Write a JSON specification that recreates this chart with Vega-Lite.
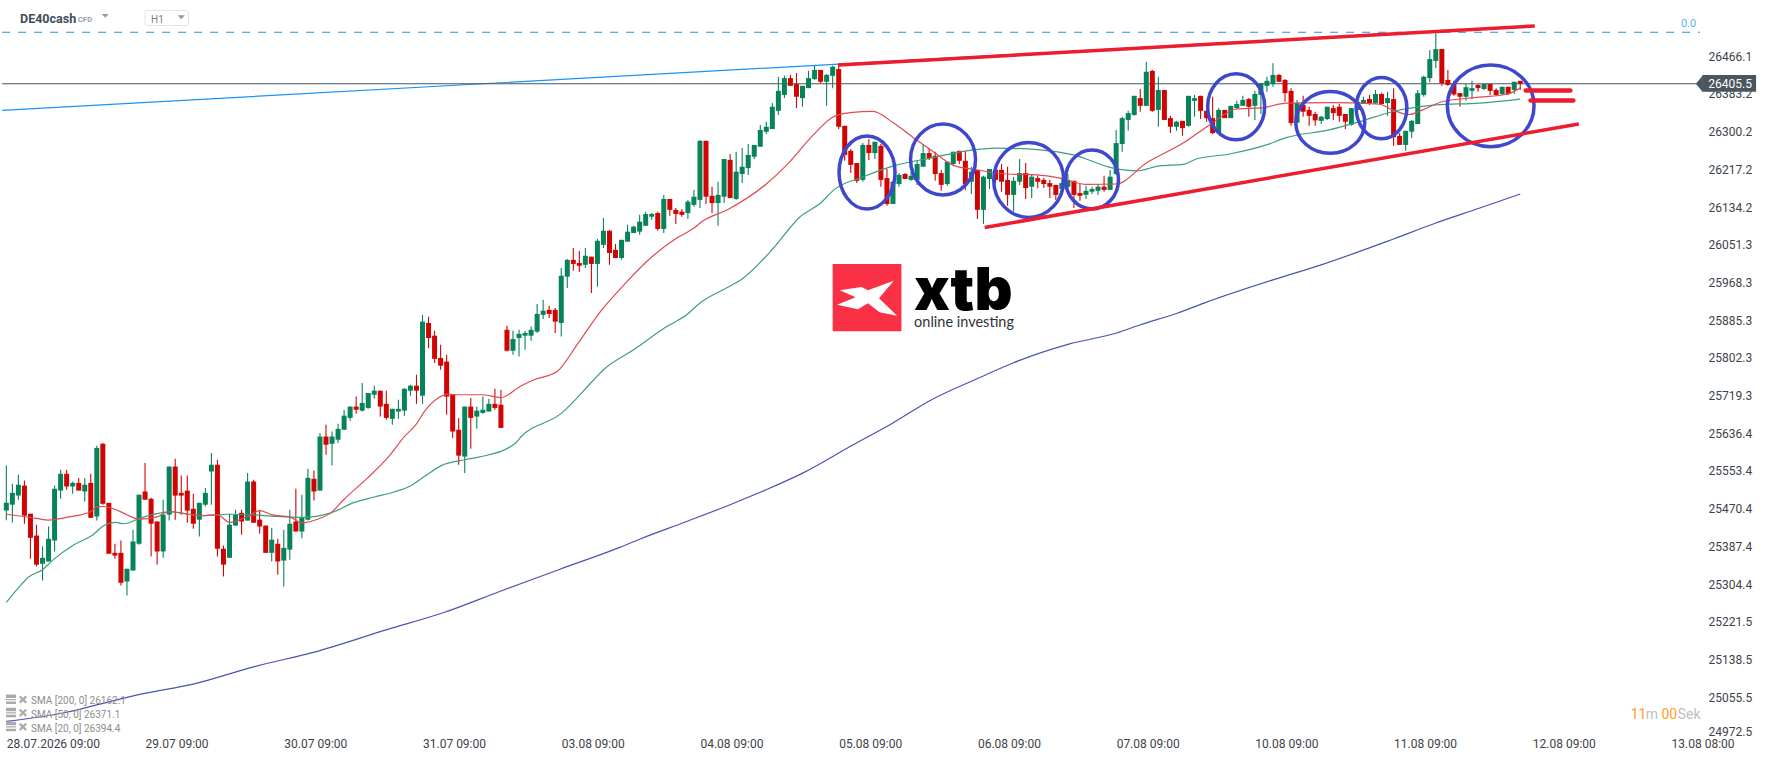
{
  "$schema": "https://vega.github.io/schema/vega-lite/v6.json",
  "description": "DE40cash H1 candlestick chart with SMA lines and hand drawn channel",
  "width": 1700,
  "height": 735,
  "autosize": {"type": "none"},
  "padding": {"left": 0, "top": 0, "right": 68, "bottom": 26},
  "background": "white",
  "config": {"view": {"stroke": null}, "font": "Roboto"},
  "datasets": {
    "candles": [
      {"i":0,"o":25466,"h":25565,"l":25445,"c":25483},{"i":1,"o":25479,"h":25525,"l":25440,"c":25505},{"i":2,"o":25499,"h":25545,"l":25490,"c":25523},{"i":3,"o":25521,"h":25532,"l":25437,"c":25455},
      {"i":4,"o":25459,"h":25459,"l":25360,"c":25406},{"i":5,"o":25411,"h":25435,"l":25343,"c":25347},{"i":6,"o":25349,"h":25387,"l":25312,"c":25362},{"i":7,"o":25354,"h":25431,"l":25354,"c":25404},
      {"i":8,"o":25400,"h":25521,"l":25376,"c":25514},{"i":9,"o":25510,"h":25556,"l":25492,"c":25547},{"i":10,"o":25547,"h":25556,"l":25512,"c":25519},{"i":11,"o":25519,"h":25530,"l":25503,"c":25527},
      {"i":12,"o":25527,"h":25538,"l":25510,"c":25510},{"i":13,"o":25508,"h":25538,"l":25486,"c":25523},{"i":14,"o":25527,"h":25547,"l":25450,"c":25450},{"i":15,"o":25453,"h":25609,"l":25444,"c":25604},
      {"i":16,"o":25613,"h":25615,"l":25479,"c":25481},{"i":17,"o":25483,"h":25483,"l":25371,"c":25371},{"i":18,"o":25373,"h":25393,"l":25360,"c":25367},{"i":19,"o":25373,"h":25400,"l":25301,"c":25307},
      {"i":20,"o":25310,"h":25338,"l":25279,"c":25338},{"i":21,"o":25334,"h":25424,"l":25334,"c":25398},{"i":22,"o":25393,"h":25501,"l":25391,"c":25501},{"i":23,"o":25508,"h":25571,"l":25490,"c":25490},
      {"i":24,"o":25492,"h":25494,"l":25365,"c":25437},{"i":25,"o":25442,"h":25442,"l":25347,"c":25376},{"i":26,"o":25376,"h":25490,"l":25362,"c":25457},{"i":27,"o":25457,"h":25563,"l":25444,"c":25563},
      {"i":28,"o":25563,"h":25580,"l":25446,"c":25499},{"i":29,"o":25505,"h":25543,"l":25457,"c":25499},{"i":30,"o":25510,"h":25543,"l":25439,"c":25466},{"i":31,"o":25470,"h":25503,"l":25426,"c":25437},
      {"i":32,"o":25446,"h":25483,"l":25409,"c":25483},{"i":33,"o":25479,"h":25516,"l":25475,"c":25505},{"i":34,"o":25552,"h":25593,"l":25479,"c":25567},{"i":35,"o":25567,"h":25578,"l":25365,"c":25382},
      {"i":36,"o":25382,"h":25389,"l":25321,"c":25347},{"i":37,"o":25362,"h":25459,"l":25362,"c":25435},{"i":38,"o":25433,"h":25468,"l":25433,"c":25457},{"i":39,"o":25461,"h":25468,"l":25413,"c":25442},
      {"i":40,"o":25444,"h":25549,"l":25444,"c":25530},{"i":41,"o":25530,"h":25534,"l":25439,"c":25439},{"i":42,"o":25446,"h":25466,"l":25415,"c":25431},{"i":43,"o":25433,"h":25433,"l":25373,"c":25373},
      {"i":44,"o":25373,"h":25428,"l":25354,"c":25402},{"i":45,"o":25393,"h":25404,"l":25325,"c":25354},{"i":46,"o":25356,"h":25424,"l":25299,"c":25384},{"i":47,"o":25380,"h":25468,"l":25358,"c":25437},
      {"i":48,"o":25442,"h":25514,"l":25420,"c":25420},{"i":49,"o":25420,"h":25501,"l":25405,"c":25450},{"i":50,"o":25446,"h":25558,"l":25444,"c":25538},{"i":51,"o":25536,"h":25554,"l":25488,"c":25508},
      {"i":52,"o":25510,"h":25637,"l":25510,"c":25629},{"i":53,"o":25629,"h":25655,"l":25589,"c":25611},{"i":54,"o":25613,"h":25640,"l":25565,"c":25629},{"i":55,"o":25622,"h":25657,"l":25615,"c":25646},
      {"i":56,"o":25644,"h":25688,"l":25644,"c":25675},{"i":57,"o":25670,"h":25695,"l":25664,"c":25695},{"i":58,"o":25695,"h":25717,"l":25679,"c":25688},{"i":59,"o":25686,"h":25747,"l":25684,"c":25703},
      {"i":60,"o":25692,"h":25725,"l":25690,"c":25725},{"i":61,"o":25721,"h":25741,"l":25712,"c":25730},{"i":62,"o":25730,"h":25730,"l":25673,"c":25695},{"i":63,"o":25701,"h":25730,"l":25666,"c":25670},
      {"i":64,"o":25668,"h":25690,"l":25655,"c":25690},{"i":65,"o":25684,"h":25710,"l":25668,"c":25690},{"i":66,"o":25686,"h":25736,"l":25675,"c":25734},{"i":67,"o":25730,"h":25743,"l":25719,"c":25741},
      {"i":68,"o":25741,"h":25765,"l":25701,"c":25730},{"i":69,"o":25719,"h":25897,"l":25701,"c":25882},{"i":70,"o":25879,"h":25893,"l":25824,"c":25846},{"i":71,"o":25851,"h":25862,"l":25791,"c":25800},
      {"i":72,"o":25802,"h":25831,"l":25776,"c":25785},{"i":73,"o":25794,"h":25809,"l":25677,"c":25717},{"i":74,"o":25721,"h":25721,"l":25626,"c":25640},{"i":75,"o":25644,"h":25670,"l":25567,"c":25587},
      {"i":76,"o":25585,"h":25695,"l":25549,"c":25695},{"i":77,"o":25695,"h":25714,"l":25602,"c":25670},{"i":78,"o":25673,"h":25695,"l":25646,"c":25686},{"i":79,"o":25681,"h":25717,"l":25679,"c":25688},
      {"i":80,"o":25684,"h":25712,"l":25684,"c":25701},{"i":81,"o":25701,"h":25734,"l":25688,"c":25692},{"i":82,"o":25699,"h":25732,"l":25648,"c":25648},{"i":83,"o":25864,"h":25873,"l":25816,"c":25818},
      {"i":84,"o":25818,"h":25862,"l":25809,"c":25844},{"i":85,"o":25846,"h":25864,"l":25805,"c":25855},{"i":86,"o":25851,"h":25862,"l":25820,"c":25857},{"i":87,"o":25851,"h":25871,"l":25840,"c":25864},
      {"i":88,"o":25860,"h":25921,"l":25857,"c":25899},{"i":89,"o":25897,"h":25930,"l":25888,"c":25906},{"i":90,"o":25908,"h":25917,"l":25890,"c":25899},{"i":91,"o":25908,"h":25912,"l":25857,"c":25882},
      {"i":92,"o":25879,"h":26000,"l":25849,"c":25983},{"i":93,"o":25981,"h":26020,"l":25956,"c":26018},{"i":94,"o":26018,"h":26044,"l":25994,"c":26009},{"i":95,"o":26011,"h":26038,"l":25992,"c":26005},
      {"i":96,"o":26007,"h":26044,"l":26000,"c":26027},{"i":97,"o":26025,"h":26025,"l":25945,"c":26009},{"i":98,"o":26009,"h":26064,"l":25959,"c":26060},{"i":99,"o":26051,"h":26110,"l":26044,"c":26082},
      {"i":100,"o":26082,"h":26084,"l":26007,"c":26033},{"i":101,"o":26040,"h":26053,"l":26022,"c":26022},{"i":102,"o":26022,"h":26062,"l":26018,"c":26062},{"i":103,"o":26058,"h":26095,"l":26058,"c":26080},
      {"i":104,"o":26077,"h":26093,"l":26077,"c":26091},{"i":105,"o":26080,"h":26117,"l":26073,"c":26102},{"i":106,"o":26093,"h":26124,"l":26093,"c":26119},{"i":107,"o":26113,"h":26121,"l":26106,"c":26119},
      {"i":108,"o":26121,"h":26124,"l":26082,"c":26086},{"i":109,"o":26086,"h":26161,"l":26077,"c":26152},{"i":110,"o":26152,"h":26152,"l":26115,"c":26128},{"i":111,"o":26128,"h":26132,"l":26097,"c":26119},
      {"i":112,"o":26124,"h":26130,"l":26113,"c":26117},{"i":113,"o":26121,"h":26150,"l":26108,"c":26146},{"i":114,"o":26139,"h":26172,"l":26135,"c":26157},{"i":115,"o":26150,"h":26282,"l":26132,"c":26280},
      {"i":116,"o":26280,"h":26280,"l":26141,"c":26157},{"i":117,"o":26159,"h":26179,"l":26121,"c":26143},{"i":118,"o":26143,"h":26190,"l":26093,"c":26161},{"i":119,"o":26157,"h":26240,"l":26143,"c":26240},
      {"i":120,"o":26238,"h":26251,"l":26154,"c":26154},{"i":121,"o":26152,"h":26256,"l":26150,"c":26212},{"i":122,"o":26207,"h":26264,"l":26187,"c":26223},{"i":123,"o":26220,"h":26273,"l":26205,"c":26249},
      {"i":124,"o":26245,"h":26271,"l":26240,"c":26271},{"i":125,"o":26267,"h":26315,"l":26267,"c":26304},{"i":126,"o":26300,"h":26322,"l":26295,"c":26311},{"i":127,"o":26306,"h":26363,"l":26306,"c":26355},
      {"i":128,"o":26346,"h":26421,"l":26337,"c":26390},{"i":129,"o":26381,"h":26423,"l":26374,"c":26418},{"i":130,"o":26418,"h":26425,"l":26401,"c":26401},{"i":131,"o":26405,"h":26429,"l":26352,"c":26377},
      {"i":132,"o":26374,"h":26401,"l":26355,"c":26401},{"i":133,"o":26396,"h":26434,"l":26396,"c":26418},{"i":134,"o":26416,"h":26445,"l":26414,"c":26436},{"i":135,"o":26436,"h":26436,"l":26407,"c":26410},
      {"i":136,"o":26410,"h":26427,"l":26357,"c":26425},{"i":137,"o":26423,"h":26445,"l":26396,"c":26443},{"i":138,"o":26438,"h":26451,"l":26306,"c":26311},{"i":139,"o":26313,"h":26313,"l":26236,"c":26249},
      {"i":140,"o":26258,"h":26262,"l":26209,"c":26227},{"i":141,"o":26231,"h":26231,"l":26187,"c":26192},{"i":142,"o":26194,"h":26275,"l":26190,"c":26271},{"i":143,"o":26271,"h":26284,"l":26238,"c":26253},
      {"i":144,"o":26253,"h":26278,"l":26240,"c":26278},{"i":145,"o":26269,"h":26273,"l":26179,"c":26194},{"i":146,"o":26198,"h":26218,"l":26137,"c":26141},{"i":147,"o":26141,"h":26190,"l":26141,"c":26190},
      {"i":148,"o":26185,"h":26209,"l":26179,"c":26205},{"i":149,"o":26207,"h":26209,"l":26196,"c":26196},{"i":150,"o":26194,"h":26212,"l":26192,"c":26203},{"i":151,"o":26194,"h":26238,"l":26183,"c":26229},
      {"i":152,"o":26223,"h":26273,"l":26223,"c":26253},{"i":153,"o":26253,"h":26264,"l":26238,"c":26242},{"i":154,"o":26247,"h":26256,"l":26192,"c":26207},{"i":155,"o":26209,"h":26216,"l":26170,"c":26183},
      {"i":156,"o":26185,"h":26234,"l":26181,"c":26234},{"i":157,"o":26229,"h":26256,"l":26227,"c":26256},{"i":158,"o":26258,"h":26258,"l":26229,"c":26236},{"i":159,"o":26236,"h":26258,"l":26172,"c":26185},
      {"i":160,"o":26190,"h":26223,"l":26163,"c":26212},{"i":161,"o":26216,"h":26216,"l":26108,"c":26128},{"i":162,"o":26128,"h":26203,"l":26097,"c":26201},{"i":163,"o":26196,"h":26218,"l":26174,"c":26218},
      {"i":164,"o":26216,"h":26227,"l":26187,"c":26194},{"i":165,"o":26216,"h":26229,"l":26168,"c":26190},{"i":166,"o":26194,"h":26223,"l":26137,"c":26161},{"i":167,"o":26161,"h":26201,"l":26124,"c":26192},
      {"i":168,"o":26190,"h":26240,"l":26183,"c":26209},{"i":169,"o":26209,"h":26231,"l":26152,"c":26176},{"i":170,"o":26179,"h":26207,"l":26154,"c":26201},{"i":171,"o":26198,"h":26203,"l":26176,"c":26190},
      {"i":172,"o":26194,"h":26198,"l":26176,"c":26185},{"i":173,"o":26187,"h":26194,"l":26154,"c":26179},{"i":174,"o":26183,"h":26183,"l":26150,"c":26161},{"i":175,"o":26174,"h":26198,"l":26172,"c":26187},
      {"i":176,"o":26179,"h":26207,"l":26176,"c":26194},{"i":177,"o":26192,"h":26192,"l":26132,"c":26161},{"i":178,"o":26165,"h":26185,"l":26148,"c":26159},{"i":179,"o":26161,"h":26181,"l":26152,"c":26170},
      {"i":180,"o":26168,"h":26179,"l":26163,"c":26174},{"i":181,"o":26170,"h":26185,"l":26161,"c":26179},{"i":182,"o":26179,"h":26203,"l":26168,"c":26172},{"i":183,"o":26172,"h":26216,"l":26172,"c":26201},
      {"i":184,"o":26207,"h":26304,"l":26205,"c":26275},{"i":185,"o":26273,"h":26333,"l":26256,"c":26330},{"i":186,"o":26326,"h":26346,"l":26302,"c":26341},{"i":187,"o":26337,"h":26379,"l":26335,"c":26379},
      {"i":188,"o":26374,"h":26394,"l":26344,"c":26357},{"i":189,"o":26357,"h":26454,"l":26357,"c":26432},{"i":190,"o":26434,"h":26436,"l":26344,"c":26346},{"i":191,"o":26348,"h":26421,"l":26311,"c":26392},
      {"i":192,"o":26392,"h":26392,"l":26326,"c":26326},{"i":193,"o":26330,"h":26335,"l":26297,"c":26311},{"i":194,"o":26311,"h":26324,"l":26302,"c":26322},{"i":195,"o":26324,"h":26324,"l":26291,"c":26308},
      {"i":196,"o":26313,"h":26379,"l":26311,"c":26379},{"i":197,"o":26368,"h":26381,"l":26333,"c":26374},{"i":198,"o":26379,"h":26379,"l":26328,"c":26346},{"i":199,"o":26346,"h":26355,"l":26322,"c":26330},
      {"i":200,"o":26330,"h":26377,"l":26295,"c":26297},{"i":201,"o":26297,"h":26352,"l":26295,"c":26348},{"i":202,"o":26348,"h":26348,"l":26330,"c":26330},{"i":203,"o":26330,"h":26357,"l":26330,"c":26357},
      {"i":204,"o":26352,"h":26368,"l":26350,"c":26361},{"i":205,"o":26357,"h":26379,"l":26357,"c":26370},{"i":206,"o":26372,"h":26374,"l":26333,"c":26355},{"i":207,"o":26357,"h":26390,"l":26326,"c":26383},
      {"i":208,"o":26381,"h":26407,"l":26339,"c":26407},{"i":209,"o":26401,"h":26421,"l":26388,"c":26412},{"i":210,"o":26405,"h":26451,"l":26399,"c":26425},{"i":211,"o":26425,"h":26427,"l":26410,"c":26410},
      {"i":212,"o":26414,"h":26416,"l":26366,"c":26385},{"i":213,"o":26390,"h":26396,"l":26313,"c":26319},{"i":214,"o":26320,"h":26370,"l":26319,"c":26363},{"i":215,"o":26359,"h":26379,"l":26333,"c":26344},
      {"i":216,"o":26348,"h":26355,"l":26313,"c":26335},{"i":217,"o":26339,"h":26344,"l":26313,"c":26325},{"i":218,"o":26324,"h":26335,"l":26317,"c":26333},{"i":219,"o":26328,"h":26355,"l":26326,"c":26355},
      {"i":220,"o":26352,"h":26359,"l":26326,"c":26341},{"i":221,"o":26355,"h":26361,"l":26322,"c":26335},{"i":222,"o":26339,"h":26339,"l":26306,"c":26322},{"i":223,"o":26315,"h":26352,"l":26313,"c":26352},
      {"i":224,"o":26348,"h":26375,"l":26340,"c":26366},{"i":225,"o":26361,"h":26377,"l":26361,"c":26370},{"i":226,"o":26372,"h":26381,"l":26359,"c":26363},{"i":227,"o":26363,"h":26392,"l":26361,"c":26383},
      {"i":228,"o":26383,"h":26386,"l":26359,"c":26361},{"i":229,"o":26363,"h":26388,"l":26335,"c":26374},{"i":230,"o":26372,"h":26396,"l":26269,"c":26288},{"i":231,"o":26291,"h":26297,"l":26271,"c":26271},
      {"i":232,"o":26271,"h":26302,"l":26258,"c":26302},{"i":233,"o":26300,"h":26326,"l":26286,"c":26324},{"i":234,"o":26317,"h":26392,"l":26317,"c":26385},{"i":235,"o":26381,"h":26423,"l":26377,"c":26421},
      {"i":236,"o":26418,"h":26480,"l":26409,"c":26460},{"i":237,"o":26456,"h":26517,"l":26440,"c":26482},{"i":238,"o":26482,"h":26482,"l":26401,"c":26407},{"i":239,"o":26414,"h":26436,"l":26401,"c":26403},
      {"i":240,"o":26405,"h":26412,"l":26379,"c":26382},{"i":241,"o":26385,"h":26385,"l":26355,"c":26377},{"i":242,"o":26377,"h":26405,"l":26368,"c":26398},{"i":243,"o":26390,"h":26412,"l":26372,"c":26396},
      {"i":244,"o":26403,"h":26405,"l":26388,"c":26396},{"i":245,"o":26394,"h":26405,"l":26392,"c":26405},{"i":246,"o":26405,"h":26405,"l":26381,"c":26390},{"i":247,"o":26392,"h":26396,"l":26379,"c":26381},
      {"i":248,"o":26383,"h":26399,"l":26381,"c":26399},{"i":249,"o":26399,"h":26399,"l":26381,"c":26383},{"i":250,"o":26392,"h":26410,"l":26383,"c":26410},{"i":251,"o":26412,"h":26412,"l":26392,"c":26405.5}
    ]
  },
  "encoding": {
    "x": {
      "field": "i",
      "type": "quantitative",
      "scale": {"domain": [-1.05, 280.8], "nice": false, "zero": false, "padding": 0},
      "axis": {
        "title": null,
        "grid": false,
        "domain": false,
        "ticks": false,
        "values": [0, 23, 46, 69, 92, 115, 138, 161, 184, 207, 230, 253, 276],
        "labelExpr": "['28.07.2026 09:00','29.07 09:00','30.07 09:00','31.07 09:00','03.08 09:00','04.08 09:00','05.08 09:00','06.08 09:00','07.08 09:00','10.08 09:00','11.08 09:00','12.08 09:00','13.08 08:00'][datum.value/23]",
        "labelAlign": "left",
        "labelBaseline": "top",
        "labelPadding": 3,
        "labelFont": "Roboto",
        "labelFontSize": 12,
        "labelColor": "#3c434a",
        "labelOverlap": false,
        "labelFlush": false,
        "labelBound": false
      }
    },
    "y": {
      "field": "v",
      "type": "quantitative",
      "scale": {"domain": [24972, 26590], "nice": false, "zero": false},
      "axis": {
        "title": null,
        "orient": "right",
        "grid": false,
        "domain": false,
        "ticks": false,
        "values": [26466.1, 26383.2, 26300.2, 26217.2, 26134.2, 26051.3, 25968.3, 25885.3, 25802.3, 25719.3, 25636.4, 25553.4, 25470.4, 25387.4, 25304.4, 25221.5, 25138.5, 25055.5, 24972.5],
        "format": ".1f",
        "labelPadding": 8,
        "labelFont": "Roboto",
        "labelFontSize": 12,
        "labelColor": "#3c434a",
        "labelOverlap": false,
        "labelBound": false,
        "labelOffset": {"condition": {"test": "datum.value < 25000", "value": -3}, "value": 0}
      }
    }
  },
  "layer": [
    {
      "data": {"values": [{"i": -0.7, "v": 26347}, {"i": 138, "v": 26449}, {"i": 231, "v": 26517}]},
      "mark": {"type": "line", "stroke": "#1a93f5", "strokeWidth": 1.2},
      "encoding": {}
    },
    {
      "data": {"values": [{"i": -0.7, "v": 26519}, {"i": 280.8, "v": 26519}]},
      "mark": {"type": "line", "stroke": "#1a93f5", "strokeWidth": 1, "strokeDash": [8, 8]},
      "encoding": {}
    },
    {
      "data": {"values": [{"i": -0.7, "v": 26405.5}, {"i": 280.8, "v": 26405.5}]},
      "mark": {"type": "line", "stroke": "#4a5660", "strokeWidth": 1.1},
      "encoding": {}
    },
    {
      "data": {"name": "candles"},
      "mark": {"type": "rule", "strokeWidth": 1.1},
      "encoding": {
        "y": {"field": "h", "type": "quantitative", "scale": {"domain": [24972, 26590], "nice": false, "zero": false},
          "axis": {
            "title": null,
            "orient": "right",
            "grid": false,
            "domain": false,
            "ticks": false,
            "values": [26466.1, 26383.2, 26300.2, 26217.2, 26134.2, 26051.3, 25968.3, 25885.3, 25802.3, 25719.3, 25636.4, 25553.4, 25470.4, 25387.4, 25304.4, 25221.5, 25138.5, 25055.5, 24972.5],
            "format": ".1f",
            "labelPadding": 8,
            "labelFont": "Roboto",
            "labelFontSize": 12,
            "labelColor": "#3c434a",
            "labelOverlap": false,
            "labelBound": false,
            "labelOffset": {"condition": {"test": "datum.value < 25000", "value": -3}, "value": 0}
          }
        },
        "y2": {"field": "l"},
        "color": {"condition": {"test": "datum.c >= datum.o", "value": "#07835a"}, "value": "#d10404"}
      }
    },
    {
      "data": {"name": "candles"},
      "mark": {"type": "bar", "size": 5},
      "encoding": {
        "y": {"field": "o", "type": "quantitative", "scale": {"domain": [24972, 26590], "nice": false, "zero": false},
          "axis": {
            "title": null,
            "orient": "right",
            "grid": false,
            "domain": false,
            "ticks": false,
            "values": [26466.1, 26383.2, 26300.2, 26217.2, 26134.2, 26051.3, 25968.3, 25885.3, 25802.3, 25719.3, 25636.4, 25553.4, 25470.4, 25387.4, 25304.4, 25221.5, 25138.5, 25055.5, 24972.5],
            "format": ".1f",
            "labelPadding": 8,
            "labelFont": "Roboto",
            "labelFontSize": 12,
            "labelColor": "#3c434a",
            "labelOverlap": false,
            "labelBound": false,
            "labelOffset": {"condition": {"test": "datum.value < 25000", "value": -3}, "value": 0}
          }
        },
        "y2": {"field": "c"},
        "color": {"condition": {"test": "datum.c >= datum.o", "value": "#07835a"}, "value": "#d10404"}
      }
    },
    {
      "data": {"values": [
        {"i":0,"v":25264},{"i":2,"v":25296},{"i":3.7,"v":25320},{"i":6,"v":25336},{"i":7.8,"v":25358},{"i":11.2,"v":25391},{"i":14.2,"v":25411},{"i":16.2,"v":25433},{"i":18.1,"v":25440},{"i":19.5,"v":25437},{"i":22.3,"v":25450},{"i":27.3,"v":25463},{"i":32.3,"v":25455},{"i":36.7,"v":25458},{"i":41.7,"v":25456},{"i":45,"v":25453},{"i":49,"v":25451},
        {"i":53.8,"v":25461},{"i":57.7,"v":25484},{"i":61,"v":25496},{"i":64.3,"v":25507},{"i":66.8,"v":25519},{"i":69.3,"v":25541},{"i":72.1,"v":25565},{"i":76,"v":25578},{"i":78.8,"v":25585},{"i":84.3,"v":25613},{"i":85.3,"v":25628},{"i":92,"v":25680},{"i":97.4,"v":25754},
        {"i":99,"v":25776},{"i":104,"v":25820},{"i":109.5,"v":25871},{"i":112.8,"v":25897},{"i":115,"v":25923},{"i":119.7,"v":25958},{"i":122.2,"v":25978},{"i":127.2,"v":26044},{"i":131.6,"v":26113},{"i":135,"v":26143},{"i":137.2,"v":26172},{"i":142.1,"v":26201},{"i":147.1,"v":26225},{"i":153.2,"v":26242},{"i":159.2,"v":26258},{"i":164.2,"v":26264},{"i":171.4,"v":26260},{"i":176.9,"v":26249},{"i":183.5,"v":26220},{"i":187.4,"v":26214},{"i":191.2,"v":26225},{"i":195.1,"v":26228},{"i":197.3,"v":26240},{"i":202.8,"v":26251},{"i":208.9,"v":26271},{"i":212.2,"v":26287},{"i":219.3,"v":26304},{"i":224.3,"v":26322},{"i":229.8,"v":26344},{"i":237,"v":26359},{"i":244.2,"v":26363},{"i":251,"v":26372}
      ]},
      "mark": {"type": "line", "stroke": "#3c9f7c", "strokeWidth": 1.2, "interpolate": "monotone"},
      "encoding": {}
    },
    {
      "data": {"values": [
        {"i":0,"v":25458},{"i":5,"v":25449},{"i":7,"v":25445},{"i":10,"v":25451},{"i":14,"v":25464},{"i":15,"v":25474},{"i":16,"v":25475},{"i":18,"v":25469},{"i":20,"v":25457},{"i":22,"v":25447},{"i":25,"v":25452},{"i":27,"v":25464},{"i":30,"v":25458},{"i":33,"v":25455},{"i":35,"v":25457},{"i":37,"v":25440},{"i":40,"v":25453},{"i":42,"v":25466},{"i":44,"v":25457},{"i":47,"v":25452},{"i":49,"v":25439},
        {"i":51.6,"v":25447},{"i":53.8,"v":25461},{"i":56,"v":25491},{"i":59.9,"v":25538},{"i":63.2,"v":25582},{"i":66,"v":25629},{"i":68,"v":25657},{"i":69.3,"v":25684},{"i":71.6,"v":25714},{"i":73,"v":25722},{"i":75.4,"v":25721},{"i":78.8,"v":25721},{"i":82,"v":25715},{"i":85.4,"v":25741},{"i":87.5,"v":25754},{"i":91.3,"v":25772},{"i":94.6,"v":25831},{"i":98.5,"v":25904},{"i":102.4,"v":25963},{"i":106.8,"v":26022},{"i":110.9,"v":26064},{"i":114,"v":26088},{"i":115.3,"v":26102},{"i":119.8,"v":26130},{"i":126,"v":26185},{"i":129.4,"v":26227},{"i":133.8,"v":26293},{"i":137,"v":26332},{"i":139.9,"v":26342},{"i":143.7,"v":26345},{"i":147.1,"v":26319},{"i":150.4,"v":26287},{"i":153.7,"v":26256},{"i":157,"v":26226},{"i":160.9,"v":26216},{"i":165.9,"v":26207},{"i":170.8,"v":26205},{"i":174.7,"v":26198},{"i":179.1,"v":26184},{"i":184,"v":26185},{"i":189,"v":26231},{"i":195.1,"v":26275},{"i":199.5,"v":26315},{"i":203.9,"v":26350},{"i":208.3,"v":26353},{"i":212.2,"v":26363},{"i":219.3,"v":26364},{"i":227.6,"v":26361},{"i":229.8,"v":26348},{"i":232.6,"v":26338},{"i":234.8,"v":26348},{"i":238,"v":26366},{"i":244.2,"v":26376},{"i":248.6,"v":26382},{"i":251,"v":26396}
      ]},
      "mark": {"type": "line", "stroke": "#e04a50", "strokeWidth": 1.2, "interpolate": "monotone"},
      "encoding": {}
    },
    {
      "data": {"values": [
        {"i":0,"v":25002},{"i":10,"v":25022},{"i":15.5,"v":25040},{"i":22.7,"v":25063},{"i":31,"v":25084},{"i":41,"v":25122},{"i":50.9,"v":25154},{"i":63.1,"v":25204},{"i":72.4,"v":25241},{"i":81.8,"v":25288},{"i":91.8,"v":25337},{"i":101.7,"v":25385},{"i":105,"v":25403},{"i":112.8,"v":25442},{"i":120,"v":25479},{"i":126,"v":25512},{"i":132.1,"v":25549},{"i":140.4,"v":25611},{"i":147,"v":25659},{"i":153.1,"v":25708},{"i":161.4,"v":25759},{"i":166.9,"v":25791},{"i":176.3,"v":25833},{"i":184.1,"v":25857},{"i":188,"v":25875},{"i":194,"v":25900},{"i":199,"v":25925},{"i":210,"v":25974},{"i":218,"v":26007},{"i":230,"v":26064},{"i":237,"v":26099},{"i":244.3,"v":26132},{"i":251,"v":26163}
      ]},
      "mark": {"type": "line", "stroke": "#4a54b0", "strokeWidth": 1.2, "interpolate": "monotone"},
      "encoding": {}
    },
    {
      "data": {"values": [{"i": 142.7, "v": 26210.5}]},
      "mark": {"type": "point", "shape": "M-0.767,0A0.767,1 0 1 1 0.767,0A0.767,1 0 1 1 -0.767,0Z", "size": 5329, "filled": false, "stroke": "#3f48cc", "strokeWidth": 3.5, "opacity": 1}
    },
    {
      "data": {"values": [{"i": 155.3, "v": 26239}]},
      "mark": {"type": "point", "shape": "M-0.915,0A0.915,1 0 1 1 0.915,0A0.915,1 0 1 1 -0.915,0Z", "size": 5041, "filled": false, "stroke": "#3f48cc", "strokeWidth": 3.5, "opacity": 1}
    },
    {
      "data": {"values": [{"i": 169.5, "v": 26194}]},
      "mark": {"type": "point", "shape": "M-0.933,0A0.933,1 0 1 1 0.933,0A0.933,1 0 1 1 -0.933,0Z", "size": 5625, "filled": false, "stroke": "#3f48cc", "strokeWidth": 3.5, "opacity": 1}
    },
    {
      "data": {"values": [{"i": 180, "v": 26195}]},
      "mark": {"type": "point", "shape": "M-0.898,0A0.898,1 0 1 1 0.898,0A0.898,1 0 1 1 -0.898,0Z", "size": 3481, "filled": false, "stroke": "#3f48cc", "strokeWidth": 3.5, "opacity": 1}
    },
    {
      "data": {"values": [{"i": 203.9, "v": 26355}]},
      "mark": {"type": "point", "shape": "M-0.864,0A0.864,1 0 1 1 0.864,0A0.864,1 0 1 1 -0.864,0Z", "size": 4356, "filled": false, "stroke": "#3f48cc", "strokeWidth": 3.5, "opacity": 1}
    },
    {
      "data": {"values": [{"i": 219.5, "v": 26320.5}]},
      "mark": {"type": "point", "shape": "M-1,0A1,0.894 0 1 1 1,0A1,0.894 0 1 1 -1,0Z", "size": 4761, "filled": false, "stroke": "#3f48cc", "strokeWidth": 3.5, "opacity": 1}
    },
    {
      "data": {"values": [{"i": 228, "v": 26352}]},
      "mark": {"type": "point", "shape": "M-0.827,0A0.827,1 0 1 1 0.827,0A0.827,1 0 1 1 -0.827,0Z", "size": 3758, "filled": false, "stroke": "#3f48cc", "strokeWidth": 3.5, "opacity": 1}
    },
    {
      "data": {"values": [{"i": 246.1, "v": 26357}]},
      "mark": {"type": "point", "shape": "M-1,0A1,0.942 0 1 1 1,0A1,0.942 0 1 1 -1,0Z", "size": 7517, "filled": false, "stroke": "#3f48cc", "strokeWidth": 3.5, "opacity": 1}
    },
    {
      "data": {"values": [
        {"line": "upper", "i": 138, "v": 26447}, {"line": "upper", "i": 253.4, "v": 26533},
        {"line": "lower", "i": 162.2, "v": 26089}, {"line": "lower", "i": 260.7, "v": 26317}
      ]},
      "mark": {"type": "line", "stroke": "#ed1c2e", "strokeWidth": 3.5},
      "encoding": {"detail": {"field": "line"}}
    },
    {
      "data": {"values": [
        {"line": "a", "i": 251.9, "v": 26391}, {"line": "a", "i": 259.3, "v": 26391},
        {"line": "b", "i": 252.7, "v": 26369}, {"line": "b", "i": 259.8, "v": 26369}
      ]},
      "mark": {"type": "line", "stroke": "#ed1c2e", "strokeWidth": 4.5, "strokeCap": "round"},
      "encoding": {"detail": {"field": "line"}}
    },
    {
      "data": {"values": [{"i": 137, "i2": 148.4, "v": 26009, "v2": 25860.7}]},
      "mark": {"type": "rect", "fill": "#fa3145", "cornerRadius": 1},
      "encoding": {"x2": {"field": "i2"}, "y2": {"field": "v2"}}
    },
    {
      "data": {"values": [{"i": 142.7, "v": 25933.7}]},
      "mark": {"type": "point", "shape": "M-0.91,-0.26L-0.19,-0.37L0.03,-0.26L0.89,-0.58L0.4,0L1,0.59L0.42,0.47L0.03,0.17L-0.3,0.37L-1,0.22L-0.38,-0.03Z", "size": 3600, "filled": true, "color": "white", "opacity": 1}
    },
    {
      "data": {"values": [{"i": 150.5, "v": 25908, "label": "xtb"}]},
      "mark": {"type": "text", "font": "Inter", "fontWeight": 900, "fontSize": 59, "align": "left", "baseline": "alphabetic", "color": "#000000"},
      "encoding": {"text": {"field": "label"}}
    },
    {
      "data": {"values": [{"i": 150.5, "v": 25880, "label": "online investing"}]},
      "mark": {"type": "text", "font": "Lato", "fontSize": 14.5, "align": "left", "baseline": "middle", "color": "#333333"},
      "encoding": {"text": {"field": "label"}}
    },
    {
      "data": {"values": [{"i": 2.27, "v": 26548, "label": "DE40cash"}]},
      "mark": {"type": "text", "fontWeight": "bold", "fontSize": 12.5, "align": "left", "baseline": "middle", "color": "#3f4d5a"},
      "encoding": {"text": {"field": "label"}}
    },
    {
      "data": {"values": [{"i": 11.9, "v": 26546, "label": "CFD"}]},
      "mark": {"type": "text", "fontWeight": "bold", "fontSize": 7.5, "align": "left", "baseline": "middle", "color": "#9a9ea3"},
      "encoding": {"text": {"field": "label"}}
    },
    {
      "data": {"values": [{"i": 23, "i2": 30.2, "v": 26567, "v2": 26534}]},
      "mark": {"type": "rect", "fill": "white", "stroke": "#e3e3e3", "strokeWidth": 1, "cornerRadius": 2},
      "encoding": {"x2": {"field": "i2"}, "y2": {"field": "v2"}}
    },
    {
      "data": {"values": [{"i": 24, "v": 26547, "label": "H1"}]},
      "mark": {"type": "text", "fontSize": 10, "align": "left", "baseline": "middle", "color": "#7a7f85"},
      "encoding": {"text": {"field": "label"}}
    },
    {
      "data": {"values": [{"i": 16.4, "v": 26555}, {"i": 29, "v": 26552}]},
      "mark": {"type": "point", "shape": "M-1,-0.55L1,-0.55L0,0.55Z", "size": 50, "filled": true, "color": "#9a9a9a", "opacity": 1}
    },
    {
      "data": {"values": [{"i": 278.9, "v": 26538, "label": "0.0"}]},
      "mark": {"type": "text", "fontSize": 11, "align": "center", "baseline": "middle", "color": "#5ab0f5"},
      "encoding": {"text": {"field": "label"}}
    },
    {
      "data": {"values": [
        {"i": 4.1, "v": 25046, "label": "SMA [200, 0] 26162.1"},
        {"i": 4.1, "v": 25015.5, "label": "SMA [50, 0] 26371.1"},
        {"i": 4.1, "v": 24985.5, "label": "SMA [20, 0] 26394.4"}
      ]},
      "mark": {"type": "text", "fontSize": 10, "align": "left", "baseline": "middle", "color": "#8c8c8c"},
      "encoding": {"text": {"field": "label"}}
    },
    {
      "data": {"values": [{"i": 0.78, "v": 25050}, {"i": 0.78, "v": 25021}, {"i": 0.78, "v": 24990}]},
      "mark": {"type": "point", "shape": "M-1,-1H1V-0.3H-1ZM-1,-0.1H1V0.15H-1ZM-1,0.4H1V0.9H-1Z", "size": 100, "filled": true, "color": "#aaaaaa", "opacity": 1}
    },
    {
      "data": {"values": [{"i": 2.76, "v": 25050}, {"i": 2.76, "v": 25021}, {"i": 2.76, "v": 24990}]},
      "mark": {"type": "point", "shape": "M-1,-0.6L-0.6,-1L0,-0.4L0.6,-1L1,-0.6L0.4,0L1,0.6L0.6,1L0,0.4L-0.6,1L-1,0.6L-0.4,0Z", "size": 64, "filled": true, "color": "#aaaaaa", "opacity": 1}
    },
    {
      "data": {"values": [{"i": 269.3, "v": 25015, "label": "11"}, {"i": 274.4, "v": 25015, "label": "00"}]},
      "mark": {"type": "text", "fontSize": 14, "align": "left", "baseline": "middle", "color": "#ff9b1f"},
      "encoding": {"text": {"field": "label"}}
    },
    {
      "data": {"values": [{"i": 271.8, "v": 25015, "label": "m"}, {"i": 277.1, "v": 25015, "label": "Sek"}]},
      "mark": {"type": "text", "fontSize": 14, "align": "left", "baseline": "middle", "color": "#c0c0c0"},
      "encoding": {"text": {"field": "label"}}
    },
    {
      "data": {"values": [{"i": 280.7, "v": 26405.5}]},
      "mark": {"type": "point", "shape": "M0.41,-1L-0.41,0L0.41,1Z", "size": 289, "filled": true, "color": "#4a5660", "opacity": 1}
    },
    {
      "data": {"values": [{"i": 281.2, "i2": 290.1, "v": 26425, "v2": 26388}]},
      "mark": {"type": "rect", "fill": "#4a5660"},
      "encoding": {"x2": {"field": "i2"}, "y2": {"field": "v2"}}
    },
    {
      "data": {"values": [{"i": 285.8, "v": 26405.5, "label": "26405.5"}]},
      "mark": {"type": "text", "fontSize": 12, "align": "center", "baseline": "middle", "color": "white"},
      "encoding": {"text": {"field": "label"}}
    }
  ]
}
